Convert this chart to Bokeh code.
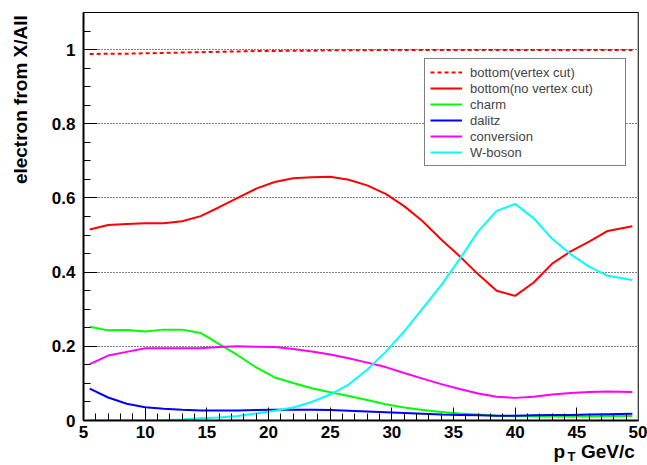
import math
from bokeh.plotting import figure
from bokeh.models import (Range1d, SingleIntervalTicker, Legend, LegendItem, Label,
                          Span, CustomJSTickFormatter)
from bokeh.embed import file_html
from bokeh.resources import INLINE

# ---- data ----
pt = [5.5, 7, 8.5, 10, 11.5, 13, 14.5, 16, 17.5, 19, 20.5, 22, 23.5, 25, 26.5,
      28, 29.5, 31, 32.5, 34, 35.5, 37, 38.5, 40, 41.5, 43, 44.5, 46, 47.5, 49.5]

bottom_vertex_cut = [0.988, 0.989, 0.989, 0.990, 0.991, 0.992, 0.993, 0.994, 0.995, 0.996,
                     0.996, 0.997, 0.997, 0.998, 0.998, 0.998, 0.999, 0.999, 0.999, 0.999,
                     0.999, 0.999, 0.999, 0.999, 0.999, 0.999, 0.999, 0.999, 0.999, 0.999]
bottom_no_cut = [0.515, 0.527, 0.530, 0.532, 0.532, 0.537, 0.551, 0.575, 0.600, 0.625,
                 0.643, 0.653, 0.656, 0.657, 0.649, 0.634, 0.611, 0.578, 0.537, 0.488,
                 0.443, 0.394, 0.350, 0.336, 0.372, 0.423, 0.456, 0.482, 0.511, 0.524]
charm = [0.253, 0.243, 0.244, 0.240, 0.245, 0.245, 0.236, 0.206, 0.176, 0.143,
         0.116, 0.101, 0.087, 0.076, 0.066, 0.055, 0.044, 0.035, 0.028, 0.023,
         0.019, 0.016, 0.013, 0.012, 0.011, 0.011, 0.011, 0.011, 0.012, 0.012]
dalitz = [0.086, 0.062, 0.045, 0.036, 0.032, 0.029, 0.027, 0.027, 0.027, 0.028,
          0.029, 0.029, 0.029, 0.028, 0.026, 0.024, 0.022, 0.020, 0.018, 0.016,
          0.015, 0.014, 0.013, 0.013, 0.014, 0.015, 0.015, 0.016, 0.017, 0.018]
conversion = [0.152, 0.175, 0.185, 0.195, 0.195, 0.195, 0.195, 0.198, 0.200, 0.199,
              0.198, 0.193, 0.186, 0.178, 0.168, 0.156, 0.144, 0.128, 0.113, 0.098,
              0.085, 0.073, 0.064, 0.061, 0.064, 0.070, 0.074, 0.077, 0.078, 0.077]
w_boson = [0.000, 0.000, 0.000, 0.000, 0.001, 0.003, 0.006, 0.008, 0.012, 0.019,
           0.026, 0.035, 0.050, 0.070, 0.097, 0.137, 0.185, 0.240, 0.302, 0.365,
           0.435, 0.510, 0.565, 0.584, 0.545, 0.490, 0.448, 0.415, 0.390, 0.379]

series_labels = ["bottom(vertex cut)", "bottom(no vertex cut)", "charm", "dalitz",
                 "conversion", "W-boson"]
series_values = [bottom_vertex_cut, bottom_no_cut, charm, dalitz, conversion, w_boson]
series_colors = ["#ff0000", "#ff0000", "#00ff00", "#0000ff", "#ff00ff", "#00ffff"]
series_dash = ["4 3", "solid", "solid", "solid", "solid", "solid"]

FONT = "Liberation Sans"

p = figure(width=647, height=465, output_backend="svg", toolbar_location=None,
           x_range=Range1d(5, 50), y_range=Range1d(0, 1.1),
           min_border_left=83, min_border_right=9, min_border_top=12, min_border_bottom=45)

p.background_fill_color = "white"
p.border_fill_color = "white"
p.outline_line_color = "black"
p.outline_line_width = 1

# axes
p.xaxis.ticker = SingleIntervalTicker(interval=5, num_minor_ticks=5)
p.yaxis.ticker = SingleIntervalTicker(interval=0.2, num_minor_ticks=4)
p.yaxis.formatter = CustomJSTickFormatter(code="return String(Math.round(tick*10)/10);")
for ax in (p.xaxis[0], p.yaxis[0]):
    ax.axis_line_width = 2
    ax.axis_line_color = "black"
    ax.major_tick_out = 0
    ax.minor_tick_out = 0
    ax.major_tick_line_color = "black"
    ax.minor_tick_line_color = "black"
    ax.major_label_text_font = FONT
    ax.major_label_text_font_style = "bold"
    ax.major_label_text_font_size = "17px"
    ax.major_label_text_color = "black"
p.xaxis.major_tick_in = 13
p.xaxis.minor_tick_in = 7
p.yaxis.major_tick_in = 14
p.yaxis.minor_tick_in = 7
p.xaxis.major_label_standoff = 5
p.yaxis.major_label_standoff = 8

p.xgrid.visible = False
p.ygrid.grid_line_color = "black"
p.ygrid.grid_line_dash = "1 2"
p.ygrid.grid_line_width = 1

# right frame edge (gray)
p.add_layout(Span(location=50, dimension="height", line_color="#808080", line_width=2))

# curves
items = []
for lab, vals, col, dash in zip(series_labels, series_values, series_colors, series_dash):
    r = p.line(pt, vals, line_color=col, line_width=2, line_dash=dash)
    items.append(LegendItem(label=lab, renderers=[r]))

legend = Legend(items=items, location=(341, 254),
                label_text_font=FONT, label_text_font_size="13px",
                glyph_width=32, glyph_height=16, label_height=16, label_width=150,
                spacing=0, padding=5, margin=0, label_standoff=8,
                border_line_color="black", border_line_width=1,
                background_fill_color="white", background_fill_alpha=1)
p.add_layout(legend)

# y-axis title (top aligned, ROOT style) -- side panel so it is not clipped
p.add_layout(Label(x=-0.108, y=0.865, text="electron from X/All", angle=math.pi / 2,
                   text_align="center", text_baseline="middle",
                   text_font=FONT, text_font_style="bold", text_font_size="19px",
                   text_color="black"), "left")

# x-axis title p_T GeV/c (p + GeV/c in the below panel, subscript T in the left panel
# so that the panels keep the frame where it is; positions use the frame scales)
p.add_layout(Label(x=43.11, y=-0.112, text="p\u00a0\u00a0\u00a0GeV/c", text_align="left",
                   text_color="black", text_font=FONT, text_font_style="bold",
                   text_font_size="19px"), "below")
p.add_layout(Label(x=44.24, y=-0.118, text="T", text_align="left", text_color="black",
                   text_font=FONT, text_font_style="bold", text_font_size="13px"), "left")

open("out.html", "w").write(file_html(p, INLINE))
